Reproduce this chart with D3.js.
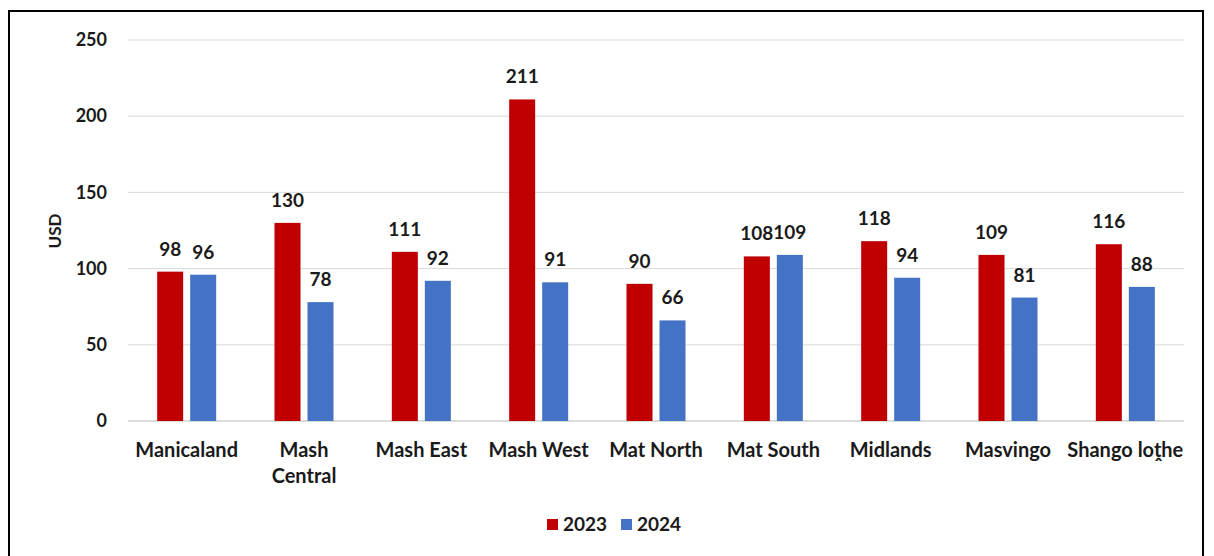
<!DOCTYPE html>
<html>
<head>
<meta charset="utf-8">
<script src="https://cdn.jsdelivr.net/npm/d3@7"></script>
<style>
  body { margin: 0; background: #fff; }
  text { font-family: Lato, "Open Sans", sans-serif; font-weight: bold; fill: #1a1a1a; }
</style>
</head>
<body>
<div id="chart"></div>
<script>
(function () {
  const W = 1214, H = 556;

  const categories = [
    ["Manicaland"], ["Mash", "Central"], ["Mash East"], ["Mash West"], ["Mat North"],
    ["Mat South"], ["Midlands"], ["Masvingo"], ["Shango loṱhe"]
  ];
  const seriesNames = ["2023", "2024"];
  const values2023 = [98, 130, 111, 211, 90, 108, 118, 109, 116];
  const values2024 = [96, 78, 92, 91, 66, 109, 94, 81, 88];
  const yTicks = [0, 50, 100, 150, 200, 250];
  const colors = ["#c00000", "#4472c4"];

  const margin = {top: 40, right: 30, bottom: 135, left: 128};
  const width = 1184 - margin.left;
  const height = 421 - margin.top;

  const svg = d3.select("#chart").append("svg")
    .attr("width", W)
    .attr("height", H);

  svg.append("rect")
    .attr("x", 9).attr("y", 11)
    .attr("width", 1194).attr("height", 560)
    .attr("fill", "none")
    .attr("stroke", "#000")
    .attr("stroke-width", 2);

  const g = svg.append("g")
    .attr("transform", "translate(" + margin.left + "," + margin.top + ")");

  const x0 = d3.scaleBand()
    .domain(d3.range(categories.length))
    .range([0, width])
    .paddingInner(0.497)
    .paddingOuter(0.2485);

  const x1 = d3.scaleBand()
    .domain(seriesNames)
    .range([0, x0.bandwidth()])
    .paddingInner(0.212);

  const y = d3.scaleLinear()
    .domain([0, 250])
    .range([height, 0]);

  // gridlines
  g.append("g")
    .selectAll("line")
    .data(yTicks)
    .join("line")
    .attr("x1", 0).attr("x2", width)
    .attr("y1", d => y(d)).attr("y2", d => y(d))
    .attr("stroke", d => d === 0 ? "#d0d0d0" : "#d9d9d9")
    .attr("stroke-width", d => d === 0 ? 1.5 : 1);

  const yAxis = g.append("g")
    .call(d3.axisLeft(y).tickValues(yTicks).tickSize(0).tickPadding(21));
  yAxis.select(".domain").remove();
  yAxis.selectAll("text")
    .style("font-family", "Lato, 'Open Sans', sans-serif")
    .style("font-weight", "bold")
    .style("font-size", "18px")
    .attr("fill", "#1a1a1a");

  svg.append("text")
    .attr("transform", "translate(61,231) rotate(-90)")
    .attr("text-anchor", "middle")
    .style("font-size", "17px")
    .text("USD");

  const rows = categories.map((c, i) => ({i: i, vals: [values2023[i], values2024[i]]}));

  const groups = g.selectAll(".cat")
    .data(rows)
    .join("g")
    .attr("class", "cat")
    .attr("transform", d => "translate(" + x0(d.i) + ",0)");

  groups.selectAll("rect")
    .data(d => d.vals.map((v, k) => ({k: k, v: v})))
    .join("rect")
    .attr("x", d => x1(seriesNames[d.k]))
    .attr("width", x1.bandwidth())
    .attr("y", d => y(d.v))
    .attr("height", d => height - y(d.v))
    .attr("fill", d => colors[d.k]);

  groups.selectAll(".lbl")
    .data(d => d.vals.map((v, k) => ({k: k, v: v})))
    .join("text")
    .attr("class", "lbl")
    .attr("x", d => x1(seriesNames[d.k]) + x1.bandwidth() / 2)
    .attr("y", d => y(d.v) - 16)
    .attr("text-anchor", "middle")
    .style("font-size", "19px")
    .text(d => d.v);

  // category labels
  const cl = g.append("g")
    .selectAll("text")
    .data(categories)
    .join("text")
    .attr("x", (d, i) => x0(i) + x0.bandwidth() / 2)
    .attr("y", height + 36)
    .attr("text-anchor", "middle")
    .style("font-size", "20px");
  cl.selectAll("tspan")
    .data(d => d)
    .join("tspan")
    .attr("x", function () { return this.parentNode.getAttribute("x"); })
    .attr("dy", (d, i) => i === 0 ? 0 : 26)
    .text(d => d);

  // legend
  const legend = svg.append("g").attr("transform", "translate(547,519)");
  const items = legend.selectAll("g")
    .data(seriesNames)
    .join("g")
    .attr("transform", (d, i) => "translate(" + i * 74 + ",0)");
  items.append("rect")
    .attr("width", 11).attr("height", 11)
    .attr("fill", (d, i) => colors[i]);
  items.append("text")
    .attr("x", 16).attr("y", 12)
    .style("font-size", "19px")
    .text(d => d);
})();
</script>
</body>
</html>
